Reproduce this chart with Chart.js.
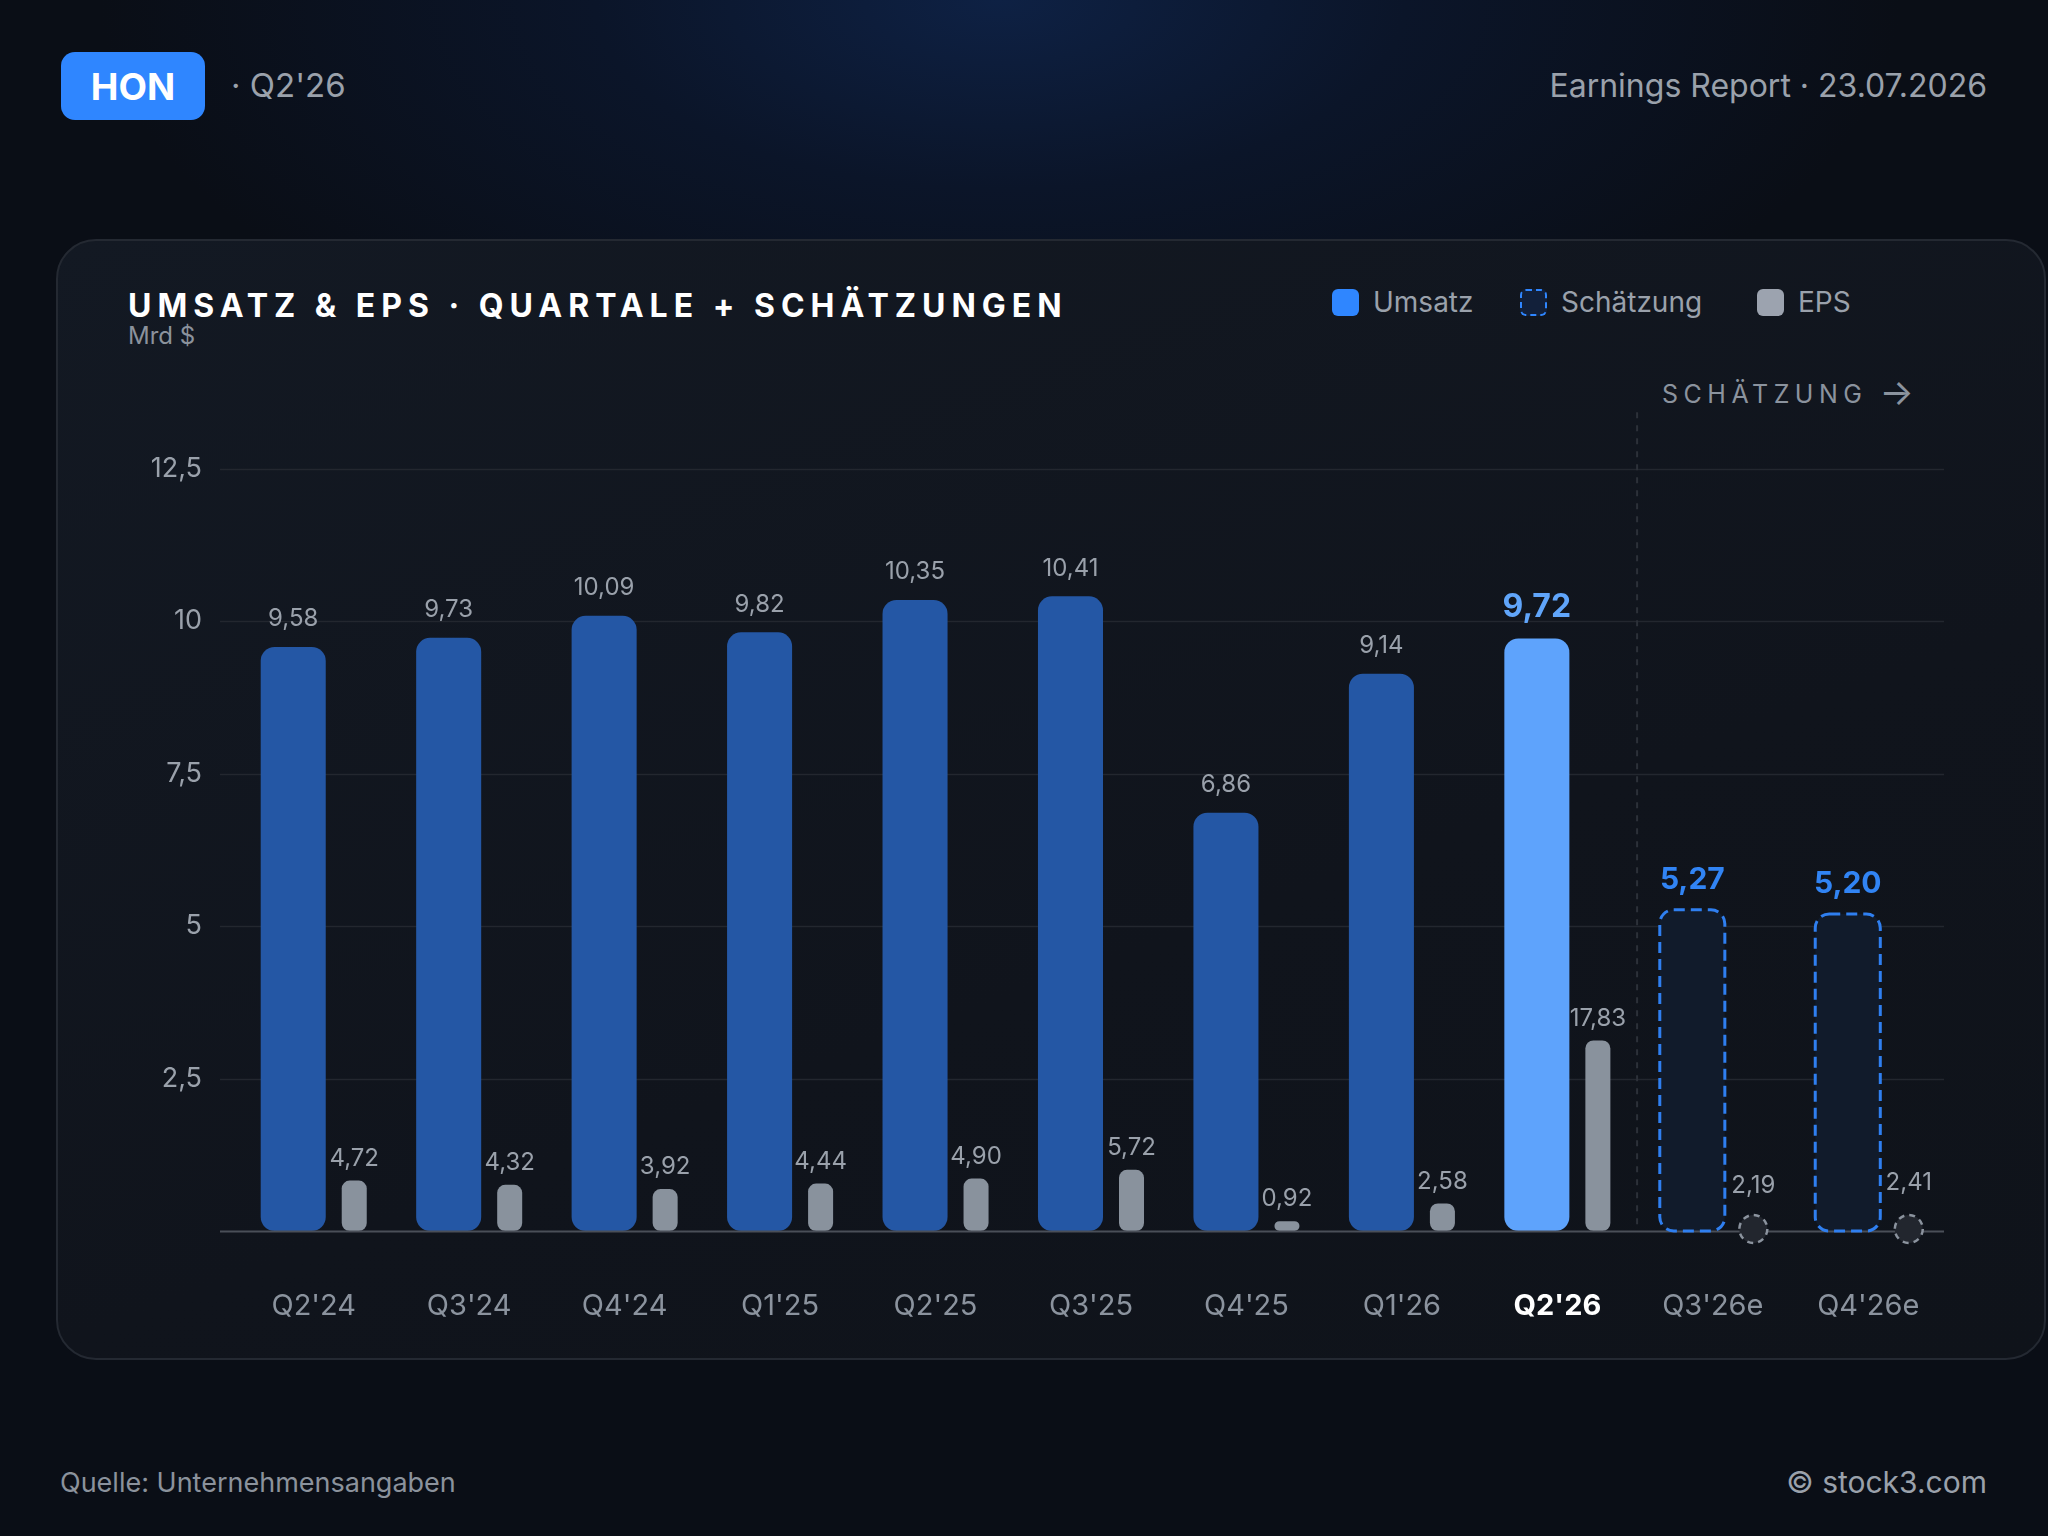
<!DOCTYPE html>
<html lang="de">
<head>
<meta charset="utf-8">
<title>HON · Umsatz & EPS</title>
<script src="https://cdn.jsdelivr.net/npm/chart.js@4.4.1/dist/chart.umd.min.js"></script>
<style>
  html, body { margin: 0; padding: 0; }
  body {
    width: 2048px; height: 1536px; overflow: hidden; position: relative;
    font-family: Inter, "Noto Sans", sans-serif;
    background: radial-gradient(ellipse 900px 420px at 1000px 0px, #0e2144 0%, #0b1529 45%, #0a0e16 100%), #0a0e16;
    color: #9aa1ab;
  }
  .badge {
    position: absolute; left: 61px; top: 52px; width: 144px; height: 68px;
    background: #2f86ff; border-radius: 14px; color: #fff; font-weight: 700;
    font-size: 37px; display: flex; align-items: center; justify-content: center;
  }
  .period { position: absolute; left: 231px; top: 65px; font-size: 33px; color: #9aa1ab; }
  .report { position: absolute; right: 61px; top: 66px; font-size: 32px; color: #9aa1ab; }
  .card {
    position: absolute; left: 56px; top: 239px; width: 1990px; height: 1121px;
    box-sizing: border-box; border: 2px solid #242932; border-radius: 40px;
    background: linear-gradient(160deg, #131923 0%, #10141c 60%, #0f131a 100%);
  }
  .title {
    position: absolute; left: 128px; top: 286px; font-size: 32px; font-weight: 700;
    color: #fff; letter-spacing: 0.187em;
  }
  .unit { position: absolute; left: 128px; top: 321px; font-size: 24px; color: #8b929c; }
  .leg { position: absolute; top: 285px; display: flex; align-items: center; font-size: 28px; color: #9aa1ab; }
  .leg .box { width: 27px; height: 27px; border-radius: 6px; margin-right: 14px; box-sizing: border-box; }
  .est-tag {
    position: absolute; left: 1662px; top: 374px; font-size: 25px; color: #8b939e;
    letter-spacing: 0.22em; display: flex; align-items: center;
  }
  .est-tag span { font-size: 36px; letter-spacing: 0; margin-left: 12px; margin-top: -4px; }
  .src { position: absolute; left: 60px; top: 1466px; font-size: 27px; color: #8b929c; }
  .copy { position: absolute; right: 61px; top: 1464px; font-size: 30px; color: #9aa1ab; }
  #chartBox { position: absolute; left: 0; top: 352px; width: 2048px; height: 1048px; }
</style>
</head>
<body>
<div class="badge">HON</div>
<div class="period">· Q2'26</div>
<div class="report">Earnings Report · 23.07.2026</div>

<div class="card"></div>
<div class="title">UMSATZ &amp; EPS · QUARTALE + SCHÄTZUNGEN</div>
<div class="unit">Mrd $</div>

<div class="leg" style="left:1332px"><div class="box" style="background:#2f86ff"></div>Umsatz</div>
<div class="leg" style="left:1520px"><div class="box" style="background:#12203a;border:2.5px dashed #2f86ff"></div>Schätzung</div>
<div class="leg" style="left:1757px"><div class="box" style="background:#9ca3af"></div>EPS</div>

<div class="est-tag">SCHÄTZUNG<span>→</span></div>

<div id="chartBox"><canvas id="chart"></canvas></div>

<div class="src">Quelle: Unternehmensangaben</div>
<div class="copy">© stock3.com</div>

<script>
// quarters, last two are estimates
const quarters = ["Q2'24", "Q3'24", "Q4'24", "Q1'25", "Q2'25", "Q3'25", "Q4'25", "Q1'26", "Q2'26", "Q3'26e", "Q4'26e"];
const revenue = [9.58, 9.73, 10.09, 9.82, 10.35, 10.41, 6.86, 9.14, 9.72, 5.27, 5.20];
const eps = [4.72, 4.32, 3.92, 4.44, 4.90, 5.72, 0.92, 2.58, 17.83, 2.19, 2.41];
const isEstimate = [false, false, false, false, false, false, false, false, false, true, true];
const currentIndex = 8;
const yTicks = [2.5, 5, 7.5, 10, 12.5];

const FONT = "Inter, 'Noto Sans', sans-serif";

function fmt(v) {
  return v.toFixed(2).replace(".", ",");
}

const revenueColors = revenue.map((v, i) => {
  if (isEstimate[i]) return "#111b2b";
  if (i === currentIndex) return "#5ea3fc";
  return "#2457a5";
});
const epsColors = eps.map((v, i) => (isEstimate[i] ? "rgba(0,0,0,0)" : "#89929d"));

// grid lines, baseline and the estimate separator
const gridPlugin = {
  id: "grid",
  beforeDatasetsDraw(chart) {
    const { ctx, chartArea, scales } = chart;
    const y = scales.y;
    const left = chartArea.left - 26;
    const right = chartArea.right - 12;
    ctx.save();
    ctx.lineWidth = 1.5;
    ctx.strokeStyle = "#23272f";
    yTicks.forEach((t) => {
      const py = Math.round(y.getPixelForValue(t)) + 0.5;
      ctx.beginPath();
      ctx.moveTo(left, py);
      ctx.lineTo(right, py);
      ctx.stroke();
    });
    // separator between actuals and estimates
    const firstEst = isEstimate.indexOf(true);
    const sx = (scales.x.getPixelForValue(firstEst - 1) + scales.x.getPixelForValue(firstEst)) / 2 - 8;
    ctx.strokeStyle = "#2c3139";
    ctx.lineWidth = 2;
    ctx.setLineDash([6, 7]);
    ctx.beginPath();
    ctx.moveTo(sx, chartArea.top);
    ctx.lineTo(sx, y.getPixelForValue(0));
    ctx.stroke();
    ctx.restore();
  },
  afterDatasetsDraw(chart) {
    const { ctx, chartArea, scales } = chart;
    const py = Math.round(scales.y.getPixelForValue(0)) + 0.5;
    ctx.save();
    ctx.strokeStyle = "#4a4f58";
    ctx.lineWidth = 2;
    ctx.beginPath();
    ctx.moveTo(chartArea.left - 26, py);
    ctx.lineTo(chartArea.right - 12, py);
    ctx.stroke();
    ctx.restore();
  },
};

// dashed outlines for estimates + value labels
const marksPlugin = {
  id: "marks",
  afterDatasetsDraw(chart) {
    const { ctx, scales } = chart;
    const revMeta = chart.getDatasetMeta(0);
    const epsMeta = chart.getDatasetMeta(1);
    const base = scales.y.getPixelForValue(0);
    ctx.save();

    revMeta.data.forEach((bar, i) => {
      if (!isEstimate[i]) return;
      const w = bar.width;
      ctx.beginPath();
      ctx.roundRect(bar.x - w / 2, bar.y, w, bar.base - bar.y, 14);
      ctx.setLineDash([11, 6]);
      ctx.lineWidth = 3;
      ctx.strokeStyle = "#2f7ff0";
      ctx.stroke();
    });

    epsMeta.data.forEach((bar, i) => {
      if (!isEstimate[i]) return;
      ctx.beginPath();
      ctx.arc(bar.x, base - 2, 14, 0, Math.PI * 2);
      ctx.fillStyle = "#22262e";
      ctx.fill();
      ctx.setLineDash([6, 5]);
      ctx.lineWidth = 2.5;
      ctx.strokeStyle = "#8b939e";
      ctx.stroke();
    });
    ctx.setLineDash([]);

    ctx.textAlign = "center";
    ctx.textBaseline = "middle";
    revMeta.data.forEach((bar, i) => {
      if (i === currentIndex) {
        ctx.font = "700 32px " + FONT;
        ctx.fillStyle = "#60a5fa";
        ctx.fillText(fmt(revenue[i]), bar.x, bar.y - 31);
      } else if (isEstimate[i]) {
        ctx.font = "700 30px " + FONT;
        ctx.fillStyle = "#3184f4";
        ctx.fillText(fmt(revenue[i]), bar.x, bar.y - 30);
      } else {
        ctx.font = "400 24px " + FONT;
        ctx.fillStyle = "#9aa1ab";
        ctx.fillText(fmt(revenue[i]), bar.x, bar.y - 28);
      }
    });
    ctx.font = "400 24px " + FONT;
    ctx.fillStyle = "#9aa1ab";
    epsMeta.data.forEach((bar, i) => {
      ctx.fillText(fmt(eps[i]), bar.x, bar.y - 22);
    });
    ctx.restore();
  },
};

new Chart(document.getElementById("chart"), {
  type: "bar",
  data: {
    labels: quarters,
    datasets: [
      {
        label: "Umsatz",
        data: revenue,
        yAxisID: "y",
        backgroundColor: revenueColors,
        borderRadius: 14,
        borderSkipped: false,
        categoryPercentage: 0.785,
        barPercentage: 1.066,
      },
      {
        label: "EPS",
        data: eps,
        yAxisID: "y1",
        backgroundColor: epsColors,
        borderRadius: 8,
        borderSkipped: false,
        categoryPercentage: 0.785,
        barPercentage: 0.41,
      },
    ],
  },
  options: {
    responsive: true,
    maintainAspectRatio: false,
    animation: false,
    layout: { padding: { left: 0, right: 92, top: 13, bottom: 0 } },
    plugins: {
      legend: { display: false },
      tooltip: { enabled: false },
    },
    scales: {
      x: {
        grid: { display: false, drawTicks: false },
        border: { display: false },
        ticks: {
          padding: 58,
          labelOffset: -10,
          color: (c) => (c.index === currentIndex ? "#ffffff" : "#8b939e"),
          font: (c) => ({ family: FONT, size: 29, weight: c.index === currentIndex ? "700" : "400" }),
        },
        afterFit: (scale) => { scale.height = 169; },
      },
      y: {
        min: 0,
        max: 13.43,
        grid: { display: false, drawTicks: false },
        border: { display: false },
        ticks: {
          stepSize: 2.5,
          padding: 44,
          color: "#9aa1ab",
          font: { family: FONT, size: 27 },
          callback: (v) => (yTicks.includes(v) ? String(v).replace(".", ",") : ""),
        },
        afterFit: (scale) => { scale.width = 246; },
      },
      y1: {
        display: false,
        min: 0,
        max: 76.6,
      },
    },
  },
  plugins: [gridPlugin, marksPlugin],
});
</script>
</body>
</html>
